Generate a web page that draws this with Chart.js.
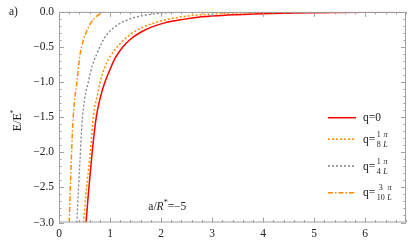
<!DOCTYPE html>
<html>
<head>
<meta charset="utf-8">
<script src="https://cdn.jsdelivr.net/npm/chart.js@4/dist/chart.umd.min.js"></script>
<style>
html,body{margin:0;padding:0;background:#fff;}
#wrap{width:415px;height:250px;position:relative;}
</style>
</head>
<body>
<div id="wrap"><canvas id="c" width="415" height="250"></canvas></div>
<script>
// ---- data ----
const xQ0  = [0.53, 0.58, 0.65, 0.73, 0.80, 0.89, 1.00, 1.10, 1.25, 1.40, 1.60, 1.80, 2.05, 2.40, 2.80, 3.30, 4.00, 5.00, 6.00, 6.80];
const yQ0  = [-3.0, -2.55, -2.0, -1.5, -1.25, -1.02, -0.82, -0.66, -0.50, -0.39, -0.29, -0.22, -0.16, -0.11, -0.07, -0.045, -0.025, -0.012, -0.006, -0.004];

const xQ18 = [0.48, 0.54, 0.60, 0.68, 0.75, 0.80, 0.90, 1.00, 1.20, 1.50, 1.90, 2.40, 3.00, 3.60, 4.30, 5.00, 6.80];
const yQ18 = [-3.0, -2.5, -2.1, -1.45, -1.2, -1.02, -0.78, -0.64, -0.45, -0.27, -0.15, -0.07, -0.03, -0.012, -0.003, 0, 0];

const xQ14 = [0.35, 0.38, 0.41, 0.45, 0.50, 0.58, 0.66, 0.74, 0.84, 0.94, 1.10, 1.27, 1.50, 1.75, 2.00, 2.40, 2.80, 6.80];
const yQ14 = [-3.0, -2.55, -2.13, -1.6, -1.25, -0.98, -0.75, -0.6, -0.44, -0.32, -0.21, -0.135, -0.075, -0.04, -0.018, -0.005, 0, 0];

const xQ310 = [0.20, 0.22, 0.24, 0.27, 0.30, 0.35, 0.41, 0.47, 0.55, 0.63, 0.71, 0.80, 0.90, 6.80];
const yQ310 = [-3.0, -2.55, -2.13, -1.6, -1.3, -1.0, -0.62, -0.42, -0.26, -0.15, -0.08, -0.03, 0, 0];

const zeroX = [0, 6.8];
const zeroY = [0, 0];

const seriesLabels = [["q=0"], ["q=", "1", "8"], ["q=", "1", "4"], ["q=", "3", "10"]];
const annotation = {x: 1.75, y: -2.76, text: "a/R*=−5"};
const panelLabel = "a)";
const yTitle = "E/E*";
const xMin = 0, xMax = 6.8, yMin = -3, yMax = 0;

const pts = (xs, ys) => xs.map((x, i) => ({x: x, y: ys[i]}));
const SERIF = '"Liberation Serif", "DejaVu Serif", serif';
const ORANGE = '#ff8c00';

const datasets = [
  {label: 'zero', data: pts(zeroX, zeroY), borderColor: '#777', borderWidth: 1.4, borderDash: [4, 3], pointRadius: 0, order: 5},
  {label: 'q=0', data: pts(xQ0, yQ0), borderColor: '#ff0000', borderWidth: 1.5, pointRadius: 0, cubicInterpolationMode: 'monotone', order: 1},
  {label: 'q=1/8', data: pts(xQ18, yQ18), borderColor: ORANGE, borderWidth: 1.5, borderDash: [2, 2], pointRadius: 0, cubicInterpolationMode: 'monotone', order: 2},
  {label: 'q=1/4', data: pts(xQ14, yQ14), borderColor: '#808080', borderWidth: 1.3, borderDash: [2, 2], pointRadius: 0, cubicInterpolationMode: 'monotone', order: 3},
  {label: 'q=3/10', data: pts(xQ310, yQ310), borderColor: ORANGE, borderWidth: 1.5, borderDash: [5, 2, 1.5, 2], pointRadius: 0, cubicInterpolationMode: 'monotone', order: 4}
];

const fmtY = v => (v < 0 ? '\u2212' : '') + Math.abs(v).toFixed(1);

const decor = {
  id: 'decor',
  afterDraw(chart) {
    const ctx = chart.ctx, a = chart.chartArea;
    const xs = chart.scales.x, ys = chart.scales.y;
    ctx.save();
    // frame
    ctx.strokeStyle = '#a0a0a0';
    ctx.lineWidth = 1;
    ctx.setLineDash([]);
    ctx.strokeRect(a.left + 0.5, a.top + 0.5, a.right - a.left - 1, a.bottom - a.top - 1);
    // ticks (inward, mirrored)
    ctx.beginPath();
    for (let i = 0; i <= Math.round((xMax - xMin) / 0.2); i++) {
      const v = xMin + i * 0.2;
      const major = Math.abs(v - Math.round(v)) < 1e-6;
      const L = major ? 5 : 2.5;
      const p = Math.round(xs.getPixelForValue(v)) + 0.5;
      ctx.moveTo(p, a.bottom); ctx.lineTo(p, a.bottom - L);
      ctx.moveTo(p, a.top); ctx.lineTo(p, a.top + L);
    }
    for (let i = 0; i <= Math.round((yMax - yMin) / 0.1); i++) {
      const v = yMin + i * 0.1;
      const major = Math.abs(v * 2 - Math.round(v * 2)) < 1e-6;
      const L = major ? 5 : 2.5;
      const p = Math.round(ys.getPixelForValue(v)) + 0.5;
      ctx.moveTo(a.left, p); ctx.lineTo(a.left + L, p);
      ctx.moveTo(a.right, p); ctx.lineTo(a.right - L, p);
    }
    ctx.stroke();

    ctx.fillStyle = '#222';
    // panel label
    ctx.font = '11.5px ' + SERIF;
    ctx.textBaseline = 'alphabetic';
    ctx.textAlign = 'left';
    ctx.fillText(panelLabel, 9, 15);

    // y title rotated
    ctx.save();
    ctx.translate(21, (a.top + a.bottom) / 2 + 5);
    ctx.rotate(-Math.PI / 2);
    ctx.font = '12px ' + SERIF;
    const base = yTitle.replace('*', '');
    const w = ctx.measureText(base).width;
    ctx.textAlign = 'center';
    ctx.fillText(base, 0, 0);
    ctx.font = '8px ' + SERIF;
    ctx.textAlign = 'left';
    ctx.fillText('*', w / 2 - 0.5, -5);
    ctx.restore();

    // annotation a/R*=-5
    {
      let x = xs.getPixelForValue(annotation.x);
      const y = ys.getPixelForValue(annotation.y) + 4;
      ctx.textAlign = 'left';
      ctx.font = '11.5px ' + SERIF;
      ctx.fillText('a/', x, y); x += ctx.measureText('a/').width;
      ctx.font = 'italic 11.5px ' + SERIF;
      ctx.fillText('R', x, y); x += ctx.measureText('R').width;
      ctx.font = '8px ' + SERIF;
      ctx.fillText('*', x, y - 5); x += ctx.measureText('*').width;
      ctx.font = '11.5px ' + SERIF;
      ctx.fillText('=\u22125', x, y);
    }

    // legend
    const rowsY = [117.7, 139.3, 166, 192.7];
    const sx0 = a.right - 78, sx1 = a.right - 50, tx = a.right - 43;
    for (let k = 0; k < 4; k++) {
      const ds = datasets[k + 1];
      const yy = rowsY[k];
      ctx.save();
      ctx.strokeStyle = ds.borderColor;
      ctx.lineWidth = ds.borderWidth;
      ctx.setLineDash(ds.borderDash || []);
      ctx.beginPath(); ctx.moveTo(sx0, yy); ctx.lineTo(sx1, yy); ctx.stroke();
      ctx.restore();
      const lab = seriesLabels[k];
      ctx.fillStyle = '#222';
      ctx.textAlign = 'left';
      ctx.textBaseline = 'middle';
      ctx.font = '11.5px ' + SERIF;
      ctx.fillText(lab[0], tx, yy + 0.5);
      if (lab.length > 1) {
        let x = tx + ctx.measureText(lab[0]).width + 1.5;
        ctx.font = '8px ' + SERIF;
        const wn = ctx.measureText(lab[1]).width, wd = ctx.measureText(lab[2]).width;
        const fw = Math.max(wn, wd);
        ctx.textAlign = 'center';
        ctx.fillText(lab[1], x + fw / 2, yy - 4.5);
        ctx.fillText(lab[2], x + fw / 2, yy + 5.5);
        x += fw + 2.5;
        ctx.font = 'italic 8px ' + SERIF;
        const wp = Math.max(ctx.measureText('\u03c0').width, ctx.measureText('L').width);
        ctx.fillText('\u03c0', x + wp / 2, yy - 4.5);
        ctx.fillText('L', x + wp / 2, yy + 5.5);
      }
    }
    ctx.restore();
  }
};

new Chart(document.getElementById('c'), {
  type: 'line',
  data: {datasets: datasets},
  options: {
    responsive: false,
    animation: false,
    devicePixelRatio: 1,
    layout: {padding: {left: 0, right: 9, top: 7, bottom: 0}},
    plugins: {legend: {display: false}, tooltip: {enabled: false}},
    elements: {line: {tension: 0.4}},
    scales: {
      x: {
        type: 'linear', min: xMin, max: xMax,
        grid: {display: false, drawTicks: false},
        border: {display: false},
        ticks: {stepSize: 1, includeBounds: false, padding: 5, color: '#222', font: {family: SERIF, size: 11.5},
                callback: v => String(v)},
        afterFit: s => { s.height = 27.5; }
      },
      y: {
        type: 'linear', min: yMin, max: yMax,
        grid: {display: false, drawTicks: false},
        border: {display: false},
        ticks: {stepSize: 0.5, padding: 5, color: '#222', font: {family: SERIF, size: 11.5},
                callback: v => fmtY(v)},
        afterFit: s => { s.width = 59; }
      }
    }
  },
  plugins: [decor]
});
</script>
</body>
</html>
